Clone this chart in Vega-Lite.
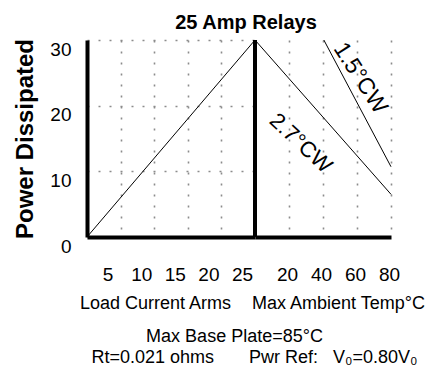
{
  "$schema": "https://vega.github.io/schema/vega-lite/v6.json",
  "padding": {"left": 13, "top": 13, "right": 0, "bottom": 0},
  "autosize": {"type": "pad"},
  "config": {
    "view": {"stroke": null},
    "font": "Liberation Sans",
    "axis": {
      "labelFont": "Liberation Sans", "titleFont": "Liberation Sans",
      "labelColor": "#000", "titleColor": "#000",
      "domainColor": "#000", "domainWidth": 4,
      "ticks": false, "tickSize": 0,
      "gridColor": "#8c8c8c", "gridDash": [2, 9], "gridWidth": 1.6, "gridOpacity": 1,
      "labelFontSize": 19, "titleFontWeight": "normal", "labelFlush": false
    }
  },
  "title": {
    "text": "Max Base Plate=85°C\u00a0\u00a0\u00a0\u00a0\u200b",
    "subtitle": "\u200b\u00a0\u00a0\u00a0\u00a0Rt=0.021 ohms\u00a0\u00a0\u00a0\u00a0\u00a0\u00a0\u00a0Pwr Ref:\u00a0\u00a0\u00a0V₀=0.80V₀",
    "orient": "bottom", "anchor": "middle", "dx": 25,
    "font": "Liberation Sans", "subtitleFont": "Liberation Sans",
    "fontSize": 18, "fontWeight": "normal", "color": "#000",
    "subtitleFontSize": 18, "subtitleColor": "#000", "subtitlePadding": 3,
    "offset": 16
  },
  "vconcat": [
    {
      "width": 304,
      "height": 197,
      "title": {"text": "25 Amp Relays", "fontSize": 20, "fontWeight": "bold", "color": "#000", "frame": "group", "anchor": "middle", "dx": 7, "offset": 5},
      "layer": [
        {
          "data": {"values": [{"current": 0, "power": 0}, {"current": 25, "power": 30}]},
          "encoding": {
            "x": {
              "field": "current", "type": "quantitative",
              "scale": {"domain": [0, 25], "range": [0, 168], "nice": false, "zero": false},
              "axis": {"values": [5, 10, 15, 20, 25], "grid": true, "labelPadding": 28, "labelOffset": -13,
                       "title": "Load Current Arms", "titleFontSize": 18, "titlePadding": 10, "titleX": 68, "titleAlign": "center"}
            }
          },
          "layer": [
            {
              "mark": {"type": "line", "color": "#000", "strokeWidth": 1},
              "encoding": {
                "y": {
                  "field": "power", "type": "quantitative",
                  "scale": {"domain": [0, 30], "nice": false, "zero": false},
                  "axis": {"values": [0, 5, 10, 15, 20, 25, 30], "grid": true,
                           "labelExpr": "datum.value % 10 === 0 ? datum.label : ''",
                           "labelPadding": 16, "labelOffset": 9,
                           "title": "Power Dissipated", "titleFontSize": 24, "titleFontWeight": "bold", "titlePadding": 12}
                }
              }
            },
            {
              "data": {"values": [{"current": 25}]},
              "mark": {"type": "rule", "color": "#000", "strokeWidth": 4}
            }
          ]
        },
        {
          "encoding": {
            "x": {
              "field": "temp", "type": "quantitative",
              "scale": {"domain": [0, 80], "range": [168, 304], "nice": false, "zero": false},
              "axis": {"orient": "bottom", "values": [20, 40, 60, 80], "grid": true, "labelPadding": 28, "labelOffset": -2,
                       "title": "Max Ambient Temp°C", "titleFontSize": 18, "titlePadding": 10, "titleX": 251, "titleAlign": "center"}
            }
          },
          "layer": [
            {
              "data": {"values": [
                {"curve": "2.7°C/W", "temp": 0, "power": 30},
                {"curve": "2.7°C/W", "temp": 80, "power": 6.5},
                {"curve": "1.5°C/W", "temp": 40.5, "power": 30},
                {"curve": "1.5°C/W", "temp": 80, "power": 10.7}
              ]},
              "mark": {"type": "line", "color": "#000", "strokeWidth": 1},
              "encoding": {
                "y": {"field": "power", "type": "quantitative"},
                "detail": {"field": "curve"}
              }
            },
            {
              "data": {"values": [{"label": "1.5°CW", "temp": 62, "power": 24.2}]},
              "mark": {"type": "text", "fontSize": 23, "angle": 57, "align": "center", "baseline": "middle", "color": "#000"},
              "encoding": {
                "y": {"field": "power", "type": "quantitative"},
                "text": {"field": "label"}
              }
            },
            {
              "data": {"values": [{"label": "2.7°CW", "temp": 27, "power": 14.3}]},
              "mark": {"type": "text", "fontSize": 22, "angle": 43, "align": "center", "baseline": "middle", "color": "#000"},
              "encoding": {
                "y": {"field": "power", "type": "quantitative"},
                "text": {"field": "label"}
              }
            }
          ]
        }
      ],
      "resolve": {"scale": {"x": "independent"}, "axis": {"x": "independent"}}
    }
  ]
}
